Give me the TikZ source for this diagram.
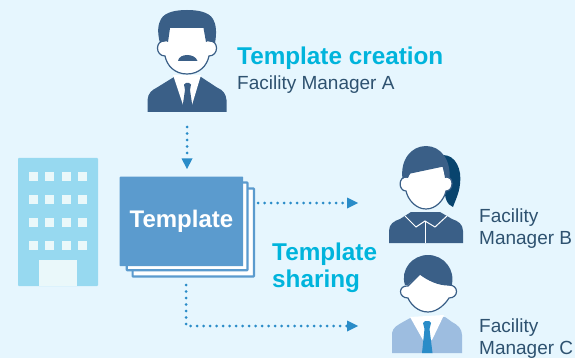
\documentclass[tikz,border=0pt]{standalone}
\usepackage{fontspec}
\setmainfont{Liberation Sans}
\definecolor{bgc}{HTML}{E6F6FE}
\definecolor{navy}{HTML}{3A5F87}
\definecolor{darknavy}{HTML}{08446E}
\definecolor{tmpl}{HTML}{5B9BCE}
\definecolor{arrowc}{HTML}{2A8CC8}
\definecolor{cyanh}{HTML}{00B4DC}
\definecolor{bldg}{HTML}{97D9F0}
\definecolor{bldw}{HTML}{EAF8FA}
\definecolor{vest}{HTML}{9DBDE0}
\definecolor{txtc}{HTML}{2E5270}
\tikzset{
 x=1pt,y=-1pt,
 sheet/.style={draw=tmpl,line width=2.2pt,fill=white,rounded corners=0.6pt},
 win/.style={fill=bldw},
 flow/.style={draw=arrowc,line width=3pt,line cap=round,dash pattern=on 0pt off 6.5pt},
 tipc/.style={fill=arrowc},
 facehead/.style={draw=navy,line width=1.2pt,fill=white},
 heading/.style={font=\bfseries\fontsize{24.3}{28}\selectfont,text=cyanh,inner sep=0pt,align=left},
 persname/.style={font=\fontsize{19}{22}\selectfont,text=txtc,inner sep=0pt,align=left},
}
\begin{document}
\begin{tikzpicture}
\useasboundingbox (0,0) rectangle (575,358);
\fill[bgc] (0,0) rectangle (575,358);
% building
\fill[bldg,rounded corners=1pt] (18,158) rectangle (98,286);
\foreach \yy in {172,195,218,241}
 \foreach \xx in {29,45,62,78}
  \fill[win] (\xx,\yy) rectangle +(9,9);
\fill[win] (39,260) rectangle (77,286);
% template stack
\draw[sheet] (132.6,188.5) rectangle (253.9,276.5);
\draw[sheet] (126.7,182.5) rectangle (247.5,270.2);
\node[fill=tmpl,minimum width=123.5pt,minimum height=89.5pt,inner sep=0pt,rounded corners=0.6pt,anchor=north west,
  text=white,font=\bfseries\fontsize{24}{28}\selectfont] (tpl) at (119.5,176.5) {Template};
% person A
\fill[navy] (147.5,112) -- (147.5,100) .. controls (148,93) and (152,90) .. (157,87.5) -- (174,77) -- (201,77) -- (217,87.5) .. controls (223,90) and (226,94) .. (226.5,100) -- (226.5,112) -- cycle;
\fill[white] (173,75) -- (201,75) -- (192,105) -- (187,88) -- (183,105) -- cycle;
\fill[navy] (184,84.5) -- (186,83) -- (189,83) -- (191,84.5) -- (190,90) -- (192.5,107) -- (187.5,112) -- (182.5,107) -- (185,90) -- cycle;
\draw[facehead] (187,74) .. controls (175,74) and (167,66) .. (165,56) .. controls (155,56) and (155,40) .. (165,41) -- (170,25) -- (204,25) -- (209,41) .. controls (219,40) and (219,56) .. (209,56) .. controls (207,66) and (199,74) .. (187,74) -- cycle;
\fill[navy] (168,42) .. controls (166,40.5) and (162,40.5) .. (160,43) .. controls (157,32) and (158,24) .. (161,19) .. controls (165,12) and (176,10) .. (187,10) .. controls (198,10) and (209,12) .. (213,19) .. controls (216,24) and (217,32) .. (215,43) .. controls (212,40.5) and (208,40.5) .. (206,42) -- (203.5,28) -- (170,28) -- cycle;
\fill[navy] (178,61) .. controls (179,53) and (195,53) .. (197.5,61) -- cycle;
\coordinate (a) at (187,127);
% person B
\fill[navy] (389,243) -- (389,231) .. controls (389,224) and (394,221) .. (400,219) -- (411,212) -- (440,212) -- (452,219) .. controls (458,221) and (463,224) .. (463,231) -- (463,243) -- cycle;
\draw[white,line width=1pt,line join=miter] (405,216) -- (416,227) -- (425,221) -- (435,227) -- (447,216);
\draw[white,line width=1pt] (425,221) -- (425,243);
\fill[darknavy] (443,155) .. controls (456,155) and (462,170) .. (460,184) .. controls (459,194) and (455,201) .. (453,207) .. controls (447,205) and (444,197) .. (445,188) -- (440,160) -- cycle;
\draw[facehead] (426,209) .. controls (416,209) and (408,200) .. (406,191) .. controls (398,191) and (398,176) .. (407,177) -- (410,173) -- (443,166) -- (446,177) .. controls (454,176) and (454,191) .. (446,191) .. controls (444,200) and (436,209) .. (426,209) -- cycle;
\fill[navy] (408,178) .. controls (406,177) and (404,177) .. (402.5,179) .. controls (400,160) and (411,146) .. (426,146) .. controls (441,146) and (451,160) .. (449.5,179) .. controls (448,177) and (446,177) .. (445,178) -- (443,166) -- (410,173) -- cycle;
\coordinate (b) at (358,203);
% person C
\fill[vest] (392,353) -- (392,333) .. controls (393,327) and (398,325) .. (403,322) -- (412,317) -- (445,317) -- (452,322) .. controls (458,325) and (462,329) .. (462,335) -- (462,353) -- cycle;
\fill[white] (410,317) -- (444,315) -- (432,340) -- (423,340) -- cycle;
\fill[arrowc] (423,323) -- (425,321) -- (429,321) -- (431,323) -- (429.5,329) -- (432.5,353) -- (422,353) -- (424.5,329) -- cycle;
\draw[facehead] (428,312) .. controls (417,312) and (410,303) .. (408,298) .. controls (398,298) and (398,285) .. (408,286) -- (420,274) .. controls (428,280) and (438,285) .. (449,285) .. controls (459,285) and (459,298) .. (449,298) .. controls (446,303) and (438,312) .. (428,312) -- cycle;
\fill[navy] (405,285) .. controls (400,270) and (412,255) .. (428,255) .. controls (444,255) and (456,270) .. (451.5,286) .. controls (450,285) and (449,285) .. (447.5,285) .. controls (438,285) and (428,280) .. (420,274) -- (408,285) -- cycle;
\coordinate (c) at (358,326);
% connectors
\coordinate (abot) at (187,158);
\draw[flow] (a) -- (abot);
\fill[tipc] (181.5,158.5) -- (192.5,158.5) -- (187,169) -- cycle;
\coordinate (ts) at (258,203);
\coordinate (te) at (347,203);
\draw[flow] (ts) -- (te);
\fill[tipc] (347,197.5) -- (b) -- (347,208.5) -- cycle;
\coordinate (us) at (186,285);
\coordinate (ue) at (347,326);
\draw[flow] (us) |- (ue);
\fill[tipc] (347,320.5) -- (c) -- (347,331.5) -- cycle;
% text
\node[heading,anchor=base west] (h1) at (237,65) {Template creation};
\node[persname,anchor=base west] (n1) at (237,90) {Facility Manager A};
\node[heading,anchor=base west] (h2) at (272,260) {Template};
\node[heading,anchor=base west] (h3) at (272,287) {sharing};
\node[persname,anchor=base west] (nb1) at (479,222) {Facility};
\node[persname,anchor=base west] (nb2) at (479,244) {Manager B};
\node[persname,anchor=base west] (nc1) at (479,332) {Facility};
\node[persname,anchor=base west] (nc2) at (479,354) {Manager C};
\end{tikzpicture}
\end{document}
